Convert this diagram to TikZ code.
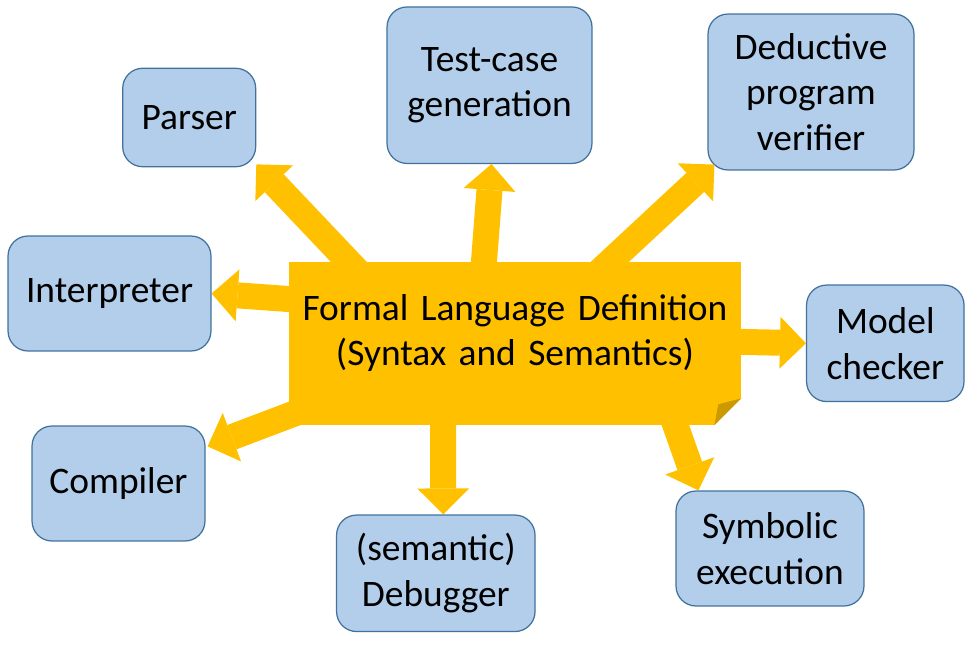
\documentclass[tikz,border=0pt]{standalone}
\usepackage{fontspec}
\setmainfont{Carlito}
\usetikzlibrary{arrows.meta}

\definecolor{boxblue}{RGB}{178,206,234}
\definecolor{boxline}{RGB}{65,113,156}
\definecolor{coreyellow}{RGB}{255,192,0}
\definecolor{foldyellow}{RGB}{204,154,0}

\begin{document}
\begin{tikzpicture}[x=0.02cm,y=-0.02cm,
  tool/.style={draw=boxline,fill=boxblue,line width=0.7pt,rounded corners=0.4cm,align=center,inner sep=0pt,font=\fontsize{21.3}{26}\selectfont},
  bigarrow/.style={draw=coreyellow,line width=0.52cm,-{Triangle[length=0.52cm,width=1.04cm,line width=0pt]}}]
\useasboundingbox (0,0) rectangle (971,646);

\node (b0) at (189.2,117.5) [tool,minimum width=2.66cm,minimum height=1.97cm] {Parser};
\node (b1) at (489.5,85.2) [tool,minimum width=4.10cm,minimum height=3.13cm] {Test-case\\generation};
\node (b2) at (811,92) [tool,minimum width=4.12cm,minimum height=3.12cm] {Deductive\\program\\verifier};
\node (b3) at (109.5,293.5) [tool,minimum width=4.06cm,minimum height=2.30cm] {Interpreter};
\node (b4) at (885.3,343.3) [tool,minimum width=3.15cm,minimum height=2.33cm] {Model\\checker};
\node (b5) at (118.5,483.5) [tool,minimum width=3.46cm,minimum height=2.30cm] {Compiler};
\node (b6) at (435.8,573.3) [tool,minimum width=3.97cm,minimum height=2.33cm] {(semantic)\\Debugger};
\node (b7) at (770,548.5) [tool,minimum width=3.76cm,minimum height=2.30cm] {Symbolic\\execution};

\coordinate (c0) at (383,298);
\coordinate (c1) at (481,300);
\coordinate (c2) at (571,298);
\coordinate (c3) at (330,302);
\coordinate (c4) at (700,341);
\coordinate (c5) at (330,400);
\coordinate (c6) at (443,390);
\coordinate (c7) at (663,390);

\coordinate (t0) at ([shift={(0,-3)}]b0.south east);
\coordinate (t1) at ([shift={(2,0)}]b1.south);
\coordinate (t2) at ([shift={(7,-6)}]b2.south west);
\coordinate (t3) at (b3.east);
\coordinate (t4) at (b4.west);
\coordinate (t5) at ([shift={(2,21)}]b5.north east);
\coordinate (t6) at ([shift={(7.5,0)}]b6.north);
\coordinate (t7) at ([shift={(23,0)}]b7.north west);

\foreach \x in {0,1,2,3,4,5,6,7} {
\draw[bigarrow] (c\x) -- (t\x);
};

\node (core) at (515,343.5) [fill=coreyellow,minimum width=9.04cm,minimum height=3.26cm,inner sep=0pt,text width=8.9cm,align=center,text height=0.6cm,text depth=1.54cm,font=\fontsize{21.3}{26}\selectfont] {Formal Language Definition\\(Syntax and Semantics)};

% folded corner
\fill[white] ([shift={(1,-28)}]core.south east) -- ([shift={(1,1)}]core.south east) -- ([shift={(-28,1)}]core.south east) -- cycle;
\fill[foldyellow] ([shift={(0,-27)}]core.south east) -- ([shift={(-23,-21)}]core.south east) -- ([shift={(-27,0)}]core.south east) -- cycle;
\end{tikzpicture}
\end{document}
